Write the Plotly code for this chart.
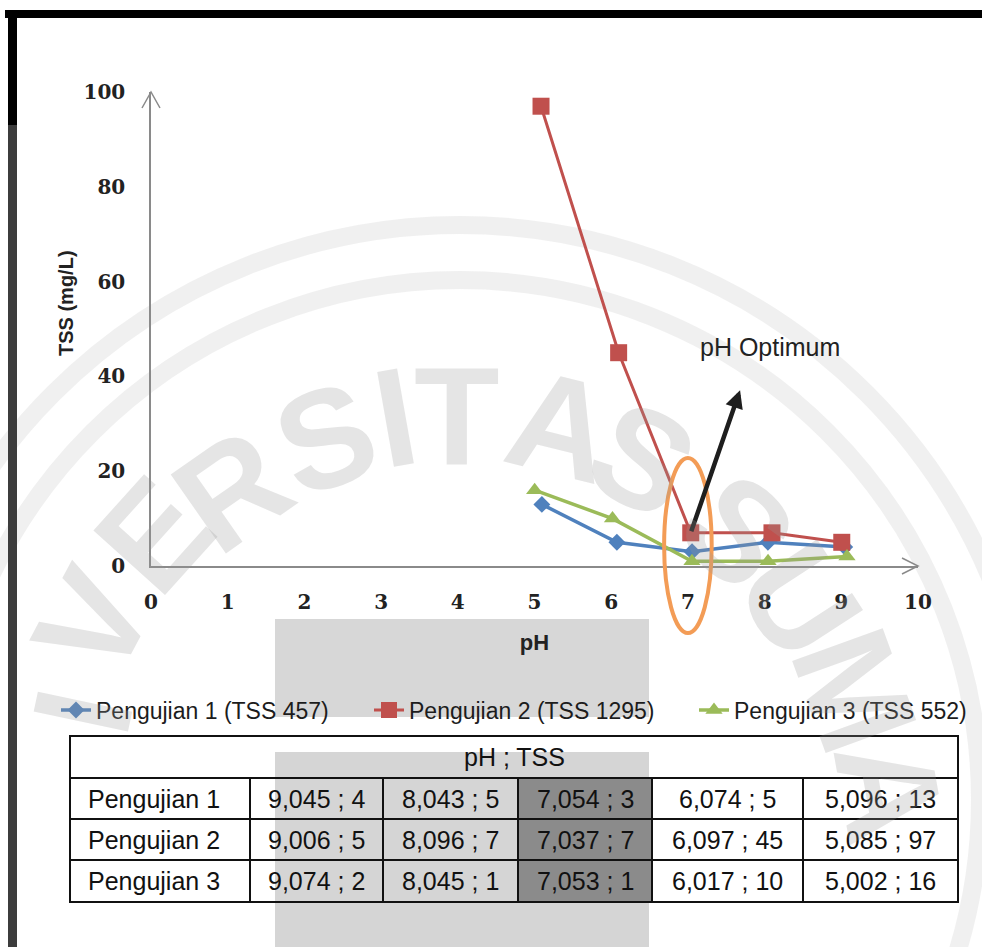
import plotly.graph_objects as go

# ---- data: pH and TSS (mg/L) per test run ----
ph_1 = [9.045, 8.043, 7.054, 6.074, 5.096]
tss_1 = [4, 5, 3, 5, 13]
ph_2 = [9.006, 8.096, 7.037, 6.097, 5.085]
tss_2 = [5, 7, 7, 45, 97]
ph_3 = [9.074, 8.045, 7.053, 6.017, 5.002]
tss_3 = [2, 1, 1, 10, 16]

series_names = ["Pengujian 1 (TSS 457)", "Pengujian 2 (TSS 1295)", "Pengujian 3 (TSS 552)"]
row_labels = ["Pengujian 1", "Pengujian 2", "Pengujian 3"]
table_title = "pH ; TSS"
x_title = "pH"
y_title = "TSS (mg/L)"
x_ticks = list(range(0, 11))
y_ticks = [0, 20, 40, 60, 80, 100]

# ---- page geometry (pixels) ----
W, H = 982, 947
PL, PR, PT, PB = 151, 918, 92, 566


def xp(px):
    """pixel column -> paper x"""
    return (px - PL) / (PR - PL)


def yp(py):
    """pixel row -> paper y"""
    return (PB - py) / (PB - PT)


def fmt(ph, tss):
    return f"{ph:.3f}".replace(".", ",") + " ; " + str(tss)


SANS = "Liberation Sans, Arial, sans-serif"
colors = ["#4f81bd", "#c0504d", "#9bbb59"]
symbols = ["diamond", "square", "triangle-up"]
sizes = [13, 17, 15]
widths = [3.5, 3, 3.5]
legend_ids = ["legend", "legend2", "legend3"]
legend_left = [56, 369, 694]

fig = go.Figure()
for ph, tss, name, c, s, sz, w, lg in zip([ph_1, ph_2, ph_3], [tss_1, tss_2, tss_3],
                                           series_names, colors, symbols, sizes, widths,
                                           legend_ids):
    fig.add_trace(go.Scatter(
        x=ph, y=tss, name=name, mode="lines+markers", legend=lg,
        line=dict(color=c, width=w),
        marker=dict(symbol=s, size=sz, color=c, line=dict(width=0)),
        cliponaxis=False,
    ))

shapes = []
annotations = []

# watermark rings (drawn beneath everything)
cx, cy = 460, 800
for r in (575, 520):
    shapes.append(dict(type="circle", xref="paper", yref="paper", layer="below",
                       x0=xp(cx - r), x1=xp(cx + r), y0=yp(cy + r), y1=yp(cy - r),
                       line=dict(color="rgba(150,150,150,0.14)", width=18)))

# grey scan bands: one behind the axis title and legend, one behind the table
grey_svg = ("data:image/svg+xml;utf8,<svg xmlns='http://www.w3.org/2000/svg' width='10' "
            "height='10' preserveAspectRatio='none' viewBox='0 0 10 10'>"
            "<rect width='10' height='10' fill='%23d7d7d7'/></svg>")
images = [dict(source=grey_svg, xref="paper", yref="paper", layer="below",
               x=xp(275), y=yp(619), sizex=xp(649) - xp(275), sizey=yp(619) - yp(717),
               sizing="stretch", xanchor="left", yanchor="top")]
shapes.append(dict(type="rect", xref="paper", yref="paper", layer="below",
                   x0=xp(275), x1=xp(649), y0=yp(947), y1=yp(752),
                   fillcolor="#d5d5d5", line=dict(width=0)))

# ---- data table ----
col_edges = [70, 250, 383, 518, 652, 803, 958]
row_edges = [736, 778, 819, 860, 902]
shapes.append(dict(type="rect", xref="paper", yref="paper", layer="below",
                   x0=xp(col_edges[3]), x1=xp(col_edges[4]),
                   y0=yp(row_edges[-1]), y1=yp(row_edges[1]),
                   fillcolor="#8b8b8b", line=dict(width=0)))
shapes.append(dict(type="rect", xref="paper", yref="paper", layer="above",
                   x0=xp(col_edges[0]), x1=xp(col_edges[-1]),
                   y0=yp(row_edges[-1]), y1=yp(row_edges[0]),
                   line=dict(color="#111", width=2)))
for ry in row_edges[1:-1]:
    shapes.append(dict(type="line", xref="paper", yref="paper", layer="above",
                       x0=xp(col_edges[0]), x1=xp(col_edges[-1]), y0=yp(ry), y1=yp(ry),
                       line=dict(color="#111", width=2)))
for cxl in col_edges[1:-1]:
    shapes.append(dict(type="line", xref="paper", yref="paper", layer="above",
                       x0=xp(cxl), x1=xp(cxl), y0=yp(row_edges[1]), y1=yp(row_edges[-1]),
                       line=dict(color="#111", width=2)))

tfont = dict(family=SANS, size=25, color="#111")
annotations.append(dict(text=table_title, xref="paper", yref="paper",
                        x=xp((col_edges[0] + col_edges[-1]) / 2),
                        y=yp((row_edges[0] + row_edges[1]) / 2),
                        showarrow=False, font=tfont, xanchor="center", yanchor="middle"))
for i, (lab, phs, tss) in enumerate(zip(row_labels, [ph_1, ph_2, ph_3], [tss_1, tss_2, tss_3])):
    ymid = (row_edges[i + 1] + row_edges[i + 2]) / 2
    annotations.append(dict(text=lab, xref="paper", yref="paper", x=xp(col_edges[0] + 16),
                            y=yp(ymid), showarrow=False, font=tfont,
                            xanchor="left", yanchor="middle"))
    for j, (p, t) in enumerate(zip(phs, tss)):
        annotations.append(dict(text=fmt(p, t), xref="paper", yref="paper",
                                x=xp((col_edges[j + 1] + col_edges[j + 2]) / 2), y=yp(ymid),
                                showarrow=False, font=tfont,
                                xanchor="center", yanchor="middle"))

# axis arrow heads
shapes.append(dict(type="path", xref="paper", yref="paper", layer="above",
                   path=f"M {xp(PR-16)},{yp(PB-8)} L {xp(PR)},{yp(PB)} L {xp(PR-16)},{yp(PB+8)}",
                   line=dict(color="#8a8a8a", width=1.5)))
shapes.append(dict(type="path", xref="paper", yref="paper", layer="above",
                   path=f"M {xp(PL-9)},{yp(PT+16)} L {xp(PL)},{yp(PT)} L {xp(PL+9)},{yp(PT+16)}",
                   line=dict(color="#8a8a8a", width=1.5)))

# y axis title, set a little above the middle of the axis
annotations.append(dict(text=y_title, xref="paper", yref="paper", x=xp(66), y=yp(303),
                        textangle=-90, showarrow=False, xanchor="center", yanchor="middle",
                        font=dict(family=SANS, size=20, weight="bold", color="#222")))

# optimum pH highlight
shapes.append(dict(type="circle", xref="x", yref="paper", layer="above",
                   x0=6.69, x1=7.31, y0=yp(633), y1=yp(458),
                   line=dict(color="#f39c56", width=4)))
annotations.append(dict(x=7.68, y=37.1, ax=ph_2[2], ay=tss_2[2], axref="x", ayref="y",
                        xref="x", yref="y", text="", showarrow=True,
                        arrowhead=2, arrowsize=0.8, arrowwidth=4.5, arrowcolor="#1e1e1e"))
annotations.append(dict(x=8.07, y=46.2, xref="x", yref="y", text="pH Optimum",
                        showarrow=False, font=dict(family=SANS, size=25, color="#222")))

# watermark letters along the seal arc
wm_letters = [
    ("I", 82, 712, -78),
    ("V", 92, 623, -62), ("E", 153, 535, -48), ("R", 231, 490, -35),
    ("S", 325, 438, -20), ("I", 395, 417, -10), ("T", 457, 415, 0),
    ("A", 560, 425, 14), ("S", 642, 458, 28),
    ("S", 738, 530, 44), ("U", 800, 600, 57), ("M", 855, 690, 70),
    ("A", 890, 790, 80),
]
for ch, lx, ly, ang in wm_letters:
    annotations.append(dict(text=ch, xref="paper", yref="paper", x=xp(lx), y=yp(ly),
                            showarrow=False, textangle=ang,
                            font=dict(family=SANS, size=140,
                                      weight="bold", color="rgba(150,150,150,0.25)"),
                            xanchor="center", yanchor="middle"))

# page frame
shapes.append(dict(type="rect", xref="paper", yref="paper", layer="above",
                   x0=xp(5), x1=xp(982), y0=yp(18), y1=yp(10),
                   fillcolor="#000", line=dict(width=0)))
shapes.append(dict(type="rect", xref="paper", yref="paper", layer="above",
                   x0=xp(8), x1=xp(17), y0=yp(125), y1=yp(10),
                   fillcolor="#000", line=dict(width=0)))
shapes.append(dict(type="rect", xref="paper", yref="paper", layer="above",
                   x0=xp(8), x1=xp(17), y0=yp(947), y1=yp(125),
                   fillcolor="#3c3c3c", line=dict(width=0)))

tickfont = dict(family="DejaVu Serif, Liberation Serif, serif", size=20, weight="bold", color="#222")

legend_style = dict(orientation="h", xref="paper", yref="paper", y=yp(710),
                    xanchor="left", yanchor="middle", bgcolor="rgba(255,255,255,0)",
                    borderwidth=0,
                    font=dict(family=SANS, size=23, color="#1c1c1c"), itemwidth=30)

fig.update_layout(
    width=W, height=H,
    margin=dict(l=PL, r=W - PR, t=PT, b=H - PB, autoexpand=False),
    paper_bgcolor="white", plot_bgcolor="rgba(0,0,0,0)",
    shapes=shapes, annotations=annotations, images=images,
    showlegend=True,
    legend=dict(legend_style, x=xp(legend_left[0])),
    legend2=dict(legend_style, x=xp(legend_left[1])),
    legend3=dict(legend_style, x=xp(legend_left[2])),
    xaxis=dict(range=[0, 10], tickvals=x_ticks, showgrid=False, zeroline=False,
               showline=True, linecolor="#8a8a8a", linewidth=1.5, ticks="",
               ticklabelstandoff=17, tickfont=tickfont,
               title=dict(text=x_title, standoff=22,
                          font=dict(family=SANS, size=22, weight="bold", color="#222"))),
    yaxis=dict(range=[0, 100], tickvals=y_ticks, showgrid=False, zeroline=False,
               showline=True, linecolor="#8a8a8a", linewidth=1.5, ticks="",
               ticklabelstandoff=20, tickfont=tickfont),
)

fig.write_html("out.html")
